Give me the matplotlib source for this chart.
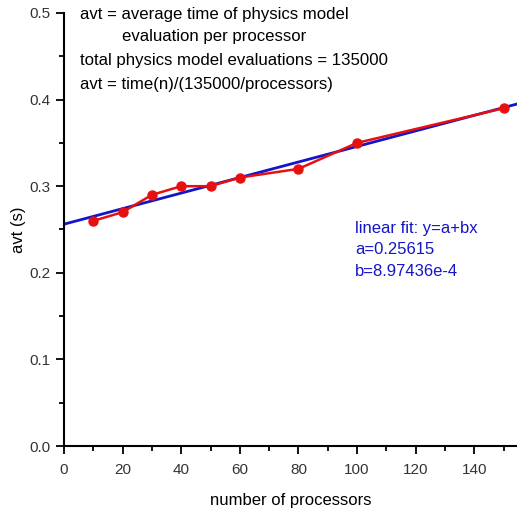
import numpy as np
import matplotlib
matplotlib.use("Agg")
import matplotlib.pyplot as plt
from matplotlib.ticker import MultipleLocator

plt.rcParams['font.family'] = ['Liberation Sans', 'DejaVu Sans']

processors = [10, 20, 30, 40, 50, 60, 80, 100, 150]
avt = [0.26, 0.27, 0.29, 0.30, 0.30, 0.31, 0.32, 0.35, 0.39]
fit_a = 0.25615
fit_b = 8.97436e-4

fig = plt.figure(figsize=(5.17, 5.12), dpi=100)
ax = fig.add_axes([64/517, 66/512, 1 - 64/517, (446-13)/512])

xmax = 154.6
xf = np.array([0, xmax])
ax.plot(xf, fit_a + fit_b * xf, color='#1414c8', lw=2, zorder=2)
ax.plot(processors, avt, color='#e61010', lw=1.8, marker='o', ms=6.5,
        markeredgecolor='#e61010', zorder=3)

ax.set_xlim(0, xmax)
ax.set_ylim(0, 0.5)
ax.xaxis.set_major_locator(MultipleLocator(20))
ax.xaxis.set_minor_locator(MultipleLocator(10))
ax.yaxis.set_major_locator(MultipleLocator(0.1))
ax.yaxis.set_minor_locator(MultipleLocator(0.05))
ax.yaxis.set_major_formatter(matplotlib.ticker.FormatStrFormatter('%.1f'))
ax.spines['top'].set_visible(False)
ax.spines['right'].set_visible(False)
for s in ('left', 'bottom'):
    ax.spines[s].set_linewidth(1.5)
ax.tick_params(which='major', direction='out', length=6, width=1.3, labelsize=11, colors='black')
ax.tick_params(which='minor', direction='out', length=3.5, width=1.3)
ax.tick_params(axis='x', pad=6)
for lab in ax.get_xticklabels() + ax.get_yticklabels():
    lab.set_color('#333333')

ax.set_xlabel('number of processors', fontsize=12, labelpad=12)
ax.set_ylabel('avt (s)', fontsize=12, labelpad=3)

txt_kw = dict(transform=fig.transFigure, fontsize=12.1, va='center', ha='left', color='black')
fig.text(80/517, 1 - 15/512, 'avt = average time of physics model', **txt_kw)
fig.text(122/517, 1 - 37/512, 'evaluation per processor', **txt_kw)
fig.text(80/517, 1 - 61/512, 'total physics model evaluations = 135000', **txt_kw)
fig.text(80/517, 1 - 85/512, 'avt = time(n)/(135000/processors)', **txt_kw)

blue_kw = dict(transform=fig.transFigure, fontsize=12, va='center', ha='left', color='#1414c8')
fig.text(355/517, 1 - 228/512, 'linear fit: y=a+bx', **blue_kw)
fig.text(355/517, 1 - 250/512, 'a=%.5f' % fit_a, **blue_kw)
fig.text(355/517, 1 - 272/512, 'b=8.97436e-4', **blue_kw)

fig.savefig('out.png', dpi=100)
